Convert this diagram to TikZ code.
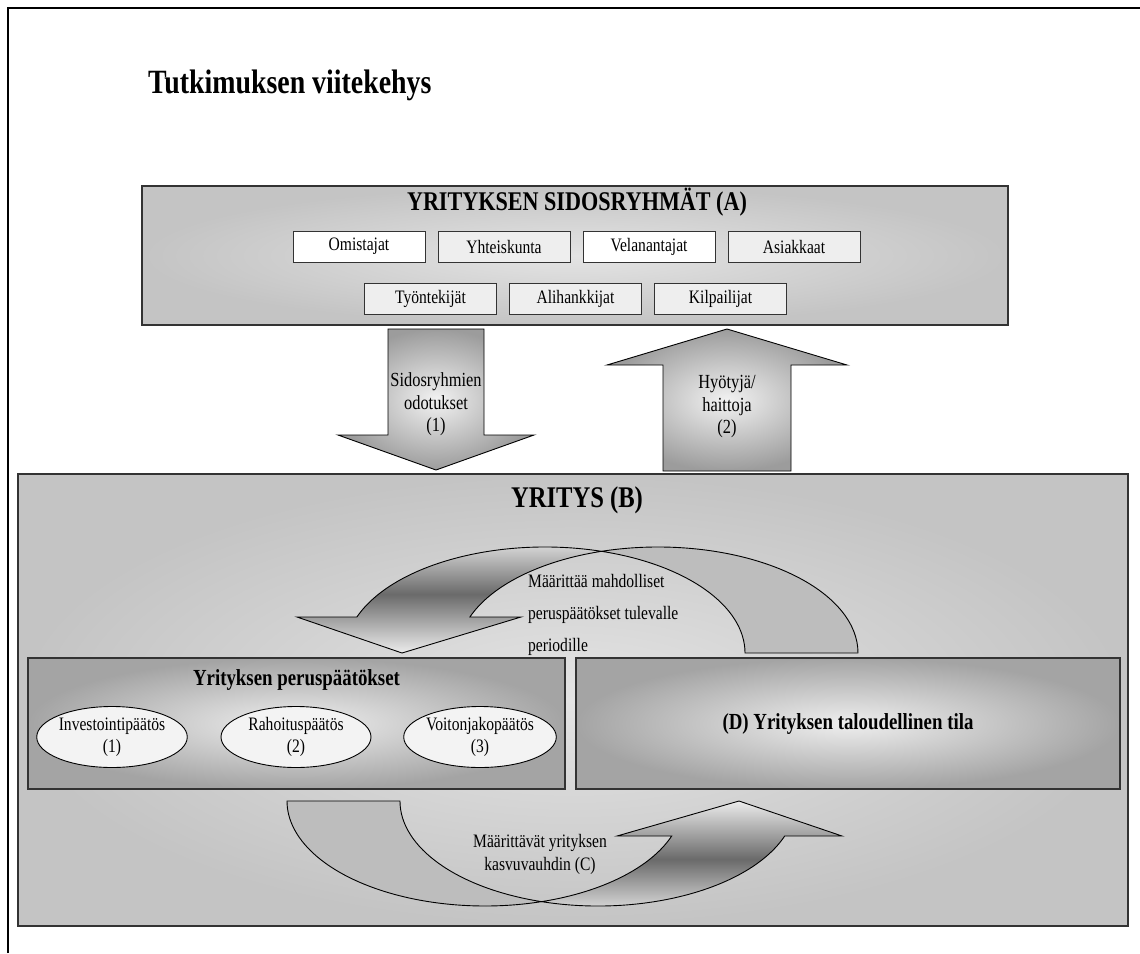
\documentclass[tikz,border=0pt]{standalone}
\usepackage{fontspec}
\setmainfont{Liberation Serif}[FakeStretch=0.82]
\usetikzlibrary{positioning, calc, shapes.geometric}
\definecolor{frameline}{HTML}{333333}
\definecolor{panelout}{HTML}{C4C4C4}
\definecolor{panelin}{HTML}{E4E4E4}
\definecolor{decout}{HTML}{A4A4A4}
\definecolor{decin}{HTML}{EEEEEE}
\definecolor{tagfill}{HTML}{EEEEEE}
\definecolor{ovalfill}{HTML}{F3F3F3}
\definecolor{rearband}{HTML}{BDBDBD}
\definecolor{banddark}{HTML}{6A6A6A}
\definecolor{bandlight}{HTML}{ECECEC}
\definecolor{arrowout}{HTML}{9C9C9C}
\definecolor{arrowin}{HTML}{F2F2F2}

\begin{document}
\begin{tikzpicture}[
    x=1pt, y=-1pt,
    panel/.style={
        draw=frameline,
        line width=1.4pt,
        inner color=panelin,
        outer color=panelout
    },
    decision/.style={
        draw=frameline,
        line width=1.4pt,
        inner color=decin,
        outer color=decout,
        minimum height=131pt
    },
    tag/.style={
        draw=frameline,
        line width=1pt,
        minimum width=132pt,
        minimum height=31pt,
        inner sep=0pt,
        font=\fontsize{19}{22}\selectfont
    },
    oval/.style={
        ellipse,
        draw,
        line width=0.9pt,
        fill=ovalfill,
        minimum width=150pt,
        minimum height=61pt,
        inner sep=0pt,
        align=center,
        font=\fontsize{19}{22}\selectfont
    },
    hdr/.style={font=\bfseries\fontsize{#1}{#1}\selectfont, inner sep=0pt},
    lbl/.style={font=\fontsize{20}{22.5}\selectfont, align=center, inner sep=0pt},
    blockarrow/.style={draw, line width=0.9pt, inner color=arrowin, outer color=arrowout},
    rear/.style={draw, line width=0.9pt, fill=rearband},
    front/.style={draw, line width=0.9pt, top color=bandlight, bottom color=bandlight, middle color=banddark}
]
\useasboundingbox (0,0) rectangle (1140,953);
\draw[line width=2.5pt] (8,953) -- (8,8) -- (1140,8);

\node[hdr=34, anchor=west] (title) at (148,85) {Tutkimuksen viitekehys};

% sidosryhmat
\node[panel, minimum width=866pt, minimum height=139pt] (stake) at (575,255.5) {};
\node[hdr=27] (stakehead) at (577,202) {YRITYKSEN SIDOSRYHMÄT (A)};
\node[tag, fill=white] (own) at (359,246.5) {Omistajat};
\node[tag, fill=tagfill, right=12pt of own] (soc) {Yhteiskunta};
\node[tag, fill=white, right=12pt of soc] (lend) {Velanantajat};
\node[tag, fill=tagfill, right=12pt of lend] (cust) {Asiakkaat};
\node[tag, fill=tagfill] (empl) at (430.5,299) {Työntekijät};
\node[tag, fill=tagfill, right=12pt of empl] (subc) {Alihankkijat};
\node[tag, fill=tagfill, right=12pt of subc] (comp) {Kilpailijat};

% yritys
\node[panel, minimum width=1110pt, minimum height=452pt] (firm) at (573,700) {};
\node[hdr=30] (firmhead) at (577,500) {YRITYS (B)};

\node[decision, minimum width=537pt] (basic) at (296.5,723.5) {};
\node[hdr=23] (basichead) at (296.5,680) {Yrityksen peruspäätökset};
\node[oval] (inv) at (112,737) {Investointipäätös\\(1)};
\node[oval] (fin) at (296,737) {Rahoituspäätös\\(2)};
\node[oval] (div) at (480,737) {Voitonjakopäätös\\(3)};
\node[decision, minimum width=544pt, font=\bfseries\fontsize{23}{23}\selectfont] (state) at (848,723.5) {(D) Yrityksen taloudellinen tila};

% odotukset ja hyodyt
\draw[blockarrow] (388,329) -- (484,329) -- (484,435) -- (534,435) -- (436,470) -- (338,435) -- (388,435) -- cycle;
\node[lbl] (expect) at (436,404.5) {Sidosryhmien\\odotukset\\(1)};
\draw[blockarrow] (727,329) -- (847,365) -- (791,365) -- (791,471) -- (663,471) -- (663,365) -- (607,365) -- cycle;
\node[lbl] (gain) at (727,407) {Hyötyjä/\\haittoja\\(2)};

% kaarinuolet
\draw[rear] (601.5,551.31) arc[start angle=-106.41, end angle=0, x radius=200, y radius=106]
    -- (745,653) arc[start angle=0, end angle=-73.59, x radius=200, y radius=106] -- cycle;
\draw[front] (297,617) -- (356.9,617) arc[start angle=-160.15, end angle=-73.59, x radius=200, y radius=106]
    arc[start angle=-106.41, end angle=-160.15, x radius=200, y radius=106] -- (521,617) -- (402,653) -- cycle;
\node[lbl, align=left, anchor=west, font=\fontsize{19}{32}\selectfont] (define) at (528,615) {Määrittää mahdolliset\\peruspäätökset tulevalle\\periodille};

\draw[rear] (287,801) arc[start angle=180, end angle=73.42, x radius=198, y radius=105]
    arc[start angle=106.58, end angle=180, x radius=198, y radius=105] -- cycle;
\draw[front] (617,836) -- (671.7,836) arc[start angle=19.47, end angle=73.42, x radius=198, y radius=105]
    arc[start angle=106.58, end angle=19.47, x radius=198, y radius=105] -- (842,836) -- (739,801) -- cycle;
\node[lbl, font=\fontsize{19}{23}\selectfont] (growth) at (540,854.5) {Määrittävät yrityksen\\kasvuvauhdin (C)};

\end{tikzpicture}
\end{document}
